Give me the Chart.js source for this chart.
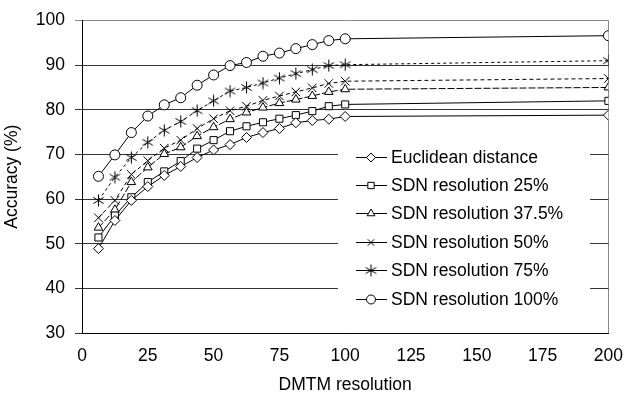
<!DOCTYPE html>
<html>
<head>
<meta charset="utf-8">
<script src="https://cdn.jsdelivr.net/npm/chart.js@4.4.0/dist/chart.umd.min.js"></script>
<style>
  html, body { margin: 0; padding: 0; background: #fff; }
  #wrap { width: 636px; height: 399px; }
</style>
</head>
<body>
<div id="wrap"><canvas id="accChart" width="636" height="399"></canvas></div>
<script>
/* DMTM resolution vs accuracy */
const resolutions = [6.25, 12.5, 18.75, 25, 31.25, 37.5, 43.75, 50, 56.25, 62.5, 68.75, 75, 81.25, 87.5, 93.75, 100, 200];

const euclidean = [48.9, 55.2, 59.7, 62.8, 65.3, 67.3, 69.3, 71.0, 72.2, 73.8, 74.9, 75.8, 77.1, 77.6, 77.9, 78.5, 78.8];
const sdn25     = [51.4, 56.3, 60.4, 63.8, 66.2, 68.5, 71.3, 73.2, 75.2, 76.3, 77.2, 78.0, 78.8, 79.7, 80.8, 81.2, 82.0];
const sdn375    = [53.6, 57.6, 63.8, 67.1, 70.1, 71.6, 74.1, 76.1, 77.9, 79.4, 80.5, 81.5, 82.3, 83.1, 84.0, 84.6, 85.0];
const sdn50     = [55.8, 59.7, 65.5, 68.6, 71.4, 73.2, 75.8, 78.0, 79.8, 80.8, 82.1, 83.1, 84.0, 84.9, 85.9, 86.4, 87.0];
const sdn75     = [59.7, 64.9, 69.3, 72.7, 75.4, 77.4, 79.8, 82.0, 84.2, 85.0, 86.0, 87.1, 88.1, 89.0, 89.9, 90.1, 91.0];
const sdn100    = [65.1, 69.9, 74.9, 78.6, 81.1, 82.7, 85.5, 87.8, 89.9, 90.6, 92.0, 92.7, 93.7, 94.6, 95.5, 95.9, 96.6];

const seriesLabels = ['Euclidean distance', 'SDN resolution 25%', 'SDN resolution 37.5%',
                      'SDN resolution 50%', 'SDN resolution 75%', 'SDN resolution 100%'];
const xTicks = [0, 25, 50, 75, 100, 125, 150, 175, 200];
const yTicks = [30, 40, 50, 60, 70, 80, 90, 100];

const FONT = '"Liberation Sans", Arial, sans-serif';
Chart.defaults.font.family = FONT;
Chart.defaults.color = '#000';

// six-armed asterisk marker (Chart.js 'star' has eight arms)
function makeAsterisk(size) {
    const c = document.createElement('canvas');
    c.width = size; c.height = size;
    const g = c.getContext('2d');
    const m = size / 2, r = size / 2 - 0.5;
    g.strokeStyle = '#000';
    g.lineWidth = 1;
    g.beginPath();
    [90, 30, -30].forEach(a => {
        const t = a * Math.PI / 180;
        g.moveTo(m - r * Math.cos(t), m - r * Math.sin(t));
        g.lineTo(m + r * Math.cos(t), m + r * Math.sin(t));
    });
    g.stroke();
    return c;
}
const asterisk = makeAsterisk(13);

const styles = [
    { pointStyle: 'rectRot',  dash: [],     radius: 5 },
    { pointStyle: 'rect',     dash: [],     radius: 5 },
    { pointStyle: 'triangle', dash: [7, 2], radius: 5 },
    { pointStyle: 'crossRot', dash: [4, 3], radius: 6 },
    { pointStyle: asterisk,   dash: [3, 3], radius: 6 },
    { pointStyle: 'circle',   dash: [],     radius: 5 }
];
const seriesValues = [euclidean, sdn25, sdn375, sdn50, sdn75, sdn100];

const datasets = seriesValues.map((vals, i) => ({
    label: seriesLabels[i],
    data: vals.map((v, k) => ({ x: resolutions[k], y: v })),
    borderColor: '#000',
    borderWidth: 1,
    borderDash: styles[i].dash,
    backgroundColor: '#fff',
    pointStyle: styles[i].pointStyle,
    pointRadius: styles[i].radius,
    pointBorderWidth: 1,
    pointBorderColor: '#000',
    pointBackgroundColor: '#fff',
    tension: 0,
    fill: false
}));

/* legend box sitting inside the plot, like the original */
const insetLegend = {
    id: 'insetLegend',
    afterDatasetsDraw(chart) {
        const ctx = chart.ctx;
        const area = chart.chartArea;
        const bx = area.left + 256, by = area.top + 120, bw = 252, bh = 175;
        ctx.save();
        ctx.fillStyle = '#fff';
        ctx.fillRect(bx, by, bw, bh);
        ctx.font = '17.5px ' + FONT;
        ctx.textBaseline = 'middle';
        ctx.textAlign = 'left';
        chart.data.datasets.forEach((ds, i) => {
            const cy = Math.round(by + 16 + i * 28.4) + 0.5;
            const mx = bx + 33;
            ctx.strokeStyle = '#000';
            ctx.lineWidth = 1;
            ctx.setLineDash([]);
            ctx.beginPath();
            ctx.moveTo(bx + 18, cy);
            ctx.lineTo(bx + 49, cy);
            ctx.stroke();
            ctx.fillStyle = '#fff';
            if (typeof ds.pointStyle === 'string') {
                Chart.helpers.drawPoint(ctx, {
                    pointStyle: ds.pointStyle, radius: 4.5, rotation: 0, borderWidth: 1
                }, mx, cy);
            } else {
                const im = ds.pointStyle;
                ctx.drawImage(im, mx - im.width / 2, cy - im.height / 2);
            }
            ctx.fillStyle = '#000';
            ctx.fillText(ds.label, bx + 53, cy + 0.5);
        });
        ctx.restore();
    }
};

new Chart(document.getElementById('accChart'), {
    type: 'line',
    data: { datasets: datasets },
    plugins: [insetLegend],
    options: {
        responsive: false,
        animation: false,
        layout: { padding: { top: 19, right: 25, left: 0, bottom: 0 } },
        plugins: {
            legend: { display: false },
            tooltip: { enabled: false }
        },
        scales: {
            x: {
                type: 'linear',
                min: 0,
                max: 200,
                afterBuildTicks: (s) => { s.ticks = xTicks.map(v => ({ value: v })); },
                afterFit: (s) => { s.height = 66; },
                grid: {
                    drawTicks: false,
                    color: (c) => (c.tick && c.tick.value === 200) ? '#888' : 'rgba(0,0,0,0)'
                },
                border: { color: '#000', width: 1 },
                ticks: { font: { size: 17.5 }, padding: 13, color: '#000', maxRotation: 0 },
                title: {
                    display: true,
                    text: 'DMTM resolution',
                    font: { size: 17.5 },
                    color: '#000',
                    padding: { top: 0, bottom: 3 }
                }
            },
            y: {
                type: 'linear',
                min: 30,
                max: 100,
                afterBuildTicks: (s) => { s.ticks = yTicks.map(v => ({ value: v })); },
                afterFit: (s) => { s.width = 82; },
                grid: {
                    tickLength: 7,
                    color: (c) => (c.tick && c.tick.value === 100) ? '#888' : '#333'
                },
                border: { color: '#000', width: 1 },
                ticks: { font: { size: 17.5 }, padding: 10, color: '#000' },
                title: {
                    display: true,
                    text: 'Accuracy (%)',
                    font: { size: 17.5 },
                    color: '#000',
                    padding: { top: 2, bottom: 0 }
                }
            }
        }
    }
});
</script>
</body>
</html>
